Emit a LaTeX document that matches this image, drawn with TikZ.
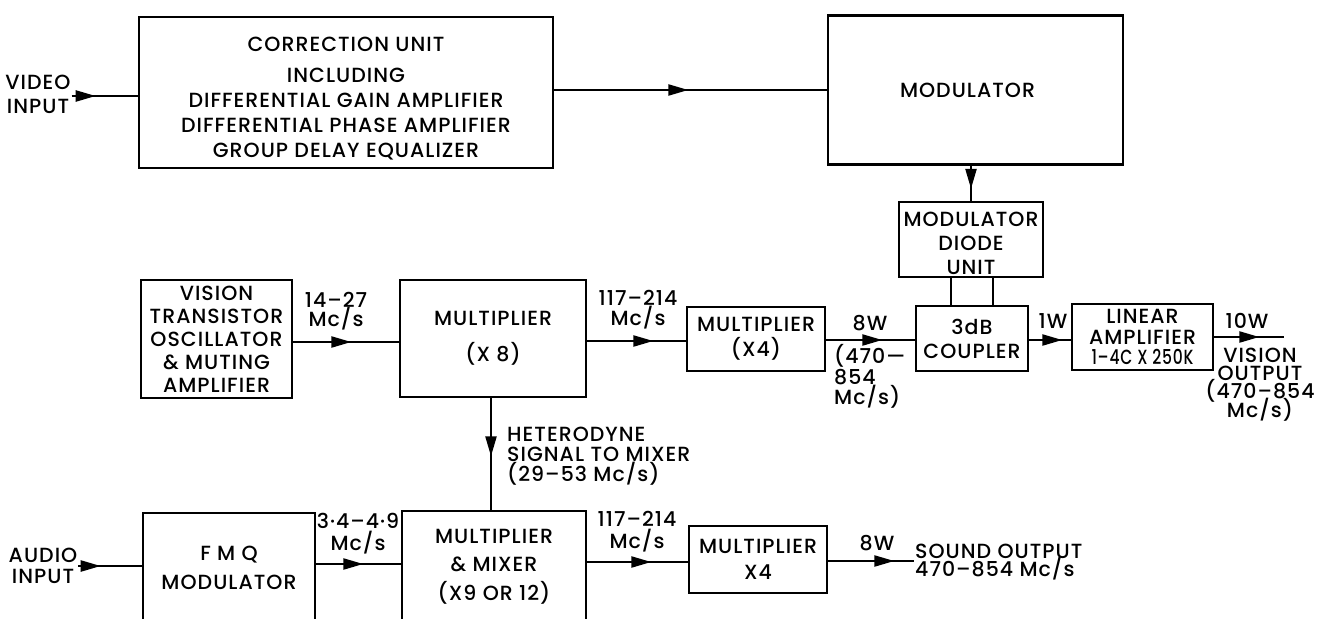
\documentclass[tikz,border=0pt]{standalone}
\usepackage{fontspec}
\usepackage{graphicx}
\IfFontExistsTF{Poppins Medium}{\setmainfont{Poppins Medium}[LetterSpace=5]}{\setmainfont{Poppins}[LetterSpace=5]}
\usetikzlibrary{arrows.meta,decorations.markings,calc}
\setlength{\lineskiplimit}{-100pt}
\begin{document}
\begin{tikzpicture}[x=1pt,y=-1pt,
  fs/.style={font=\fontsize{20.5}{#1}\selectfont},
  box/.style={draw, line width=2.6pt, align=center, inner sep=0pt, fs=22},
  txt/.style={inner sep=1pt, align=center, fs=20},
  wire/.style={line width=2.3pt},
  arr/.style={wire, postaction={decorate}, decoration={markings, mark=at position #1 with {\arrow{Triangle[length=20pt,width=11pt]}}}},
]
\useasboundingbox (0,0) rectangle (1321,618);
\clip (0,0) rectangle (1321,618);

% boxes
\node[box, minimum width=414pt, minimum height=151pt, fs=25] (corr) at (346,92.5)
  {\rule{0pt}{27pt}CORRECTION UNIT\\[6pt]INCLUDING\\DIFFERENTIAL GAIN AMPLIFIER\\DIFFERENTIAL PHASE AMPLIFIER\\GROUP DELAY EQUALIZER};
\node[box, minimum width=295pt, minimum height=149pt] (mod) at (975.5,90) {MODULATOR\hspace*{16pt}};
\node[box, minimum width=144pt, minimum height=75pt, fs=24] (diode) at (971,239.5) {\rule{0pt}{22pt}MODULATOR\\DIODE\\UNIT};
\node[box, minimum width=112pt, minimum height=65pt, fs=24] (coup) at (972,338.5) {3dB\\COUPLER};
\node[box, minimum width=141pt, minimum height=66pt, fs=20.5] (lin) at (1142.5,337) {LINEAR\\AMPLIFIER\\\scalebox{0.76}[1]{1–4C X 250K}};
\node[box, minimum width=151pt, minimum height=118pt, fs=23] (osc) at (216.5,339) {VISION\\TRANSISTOR\\OSCILLATOR\\\& MUTING\\AMPLIFIER};
\node[box, minimum width=186pt, minimum height=117pt, fs=36] (x8) at (493,338.5) {MULTIPLIER\\(X 8)};
\node[box, minimum width=138pt, minimum height=64pt, fs=25] (x4a) at (756,339) {MULTIPLIER\\(X4)};
\node[box, minimum width=172pt, minimum height=109pt, fs=29] (fmq) at (229,567.5) {F M Q\\MODULATOR};
\node[box, minimum width=184pt, minimum height=111pt, fs=28.5] (mix) at (494,566.5) {MULTIPLIER\\\& MIXER\\(X9 OR 12)};
\node[box, minimum width=138pt, minimum height=67pt, fs=26] (x4b) at (758,559.5) {MULTIPLIER\\X4};

% text labels
\node[txt, fs=24] (vin) at (38,94) {VIDEO\\INPUT};
\node[txt, fs=21] (ain) at (43,566) {AUDIO\\INPUT};
\node[txt, fs=19] (l1) at (336,311.5) {14–27\\Mc/s};
\node[txt, fs=20] (l2) at (638,310) {117–214\\Mc/s};
\node[txt] (l3) at (870,323) {8W};
\node[txt, fs=20.5, align=left, anchor=west] (l4) at (833,376.5) {(470—\\854\\Mc/s)};
\node[txt] (l5) at (1053,321) {1W};
\node[txt] (l6) at (1247,321) {10W};
\node[txt, fs=18.3] (vout) at (1260,384.5) {VISION\\OUTPUT\\(470–854\\Mc/s)};
\node[txt, fs=20, align=left, anchor=west] (het) at (506,456.5) {HETERODYNE\\SIGNAL TO MIXER\\(29–53 Mc/s)};
\node[txt, fs=22] (l7) at (358,534) {3·4–4·9\\Mc/s};
\node[txt, fs=22] (l8) at (637,532) {117–214\\Mc/s};
\node[txt] (l9) at (877,543) {8W};
\node[txt, fs=18, align=left, anchor=west] (sound) at (914,562) {SOUND OUTPUT\\470–854 Mc/s};
\coordinate (vend) at (1284,337);

% connectors
\draw[arr=-42pt] ([yshift=-2pt]vin.east) -- ([yshift=-2pt]vin.east -| corr.west);
\draw[arr=134pt] (mod.west -| corr.east) -- (mod.west);
\draw[arr=23pt] (mod.south -| diode.north) -- (diode.north);
\draw[wire] ([xshift=-20pt]diode.south) -- ([xshift=-20pt]diode.south |- coup.north);
\draw[wire] ([xshift=22pt]diode.south) -- ([xshift=22pt]diode.south |- coup.north);
\draw[arr=58pt] ([yshift=-3pt]osc.east) -- ([yshift=-3pt]osc.east -| x8.west);
\draw[arr=66pt] ([yshift=-2.5pt]x8.east) -- ([yshift=-2.5pt]x8.east -| x4a.west);
\draw[arr=56pt] ([yshift=-1pt]x4a.east) -- ([yshift=-1pt]x4a.east -| coup.west);
\draw[arr=33pt] ([yshift=-1.5pt]coup.east) -- ([yshift=-1.5pt]coup.east -| lin.west);
\draw[arr=45pt] (lin.east) -- (vend);
\draw[arr=58pt] ([xshift=-2pt]x8.south) -- ([xshift=-2pt]x8.south |- mix.north);
\draw[arr=-41pt] (ain.east) -- (ain.east -| fmq.west);
\draw[arr=47pt] ([yshift=3.5pt]fmq.east) -- ([yshift=3.5pt]fmq.east -| mix.west);
\draw[arr=64pt] ([yshift=4.5pt]mix.east) -- ([yshift=4.5pt]mix.east -| x4b.west);
\draw[arr=66pt] ([yshift=-1.5pt]x4b.east) -- ([yshift=-1.5pt]x4b.east -| sound.west);
\end{tikzpicture}
\end{document}
